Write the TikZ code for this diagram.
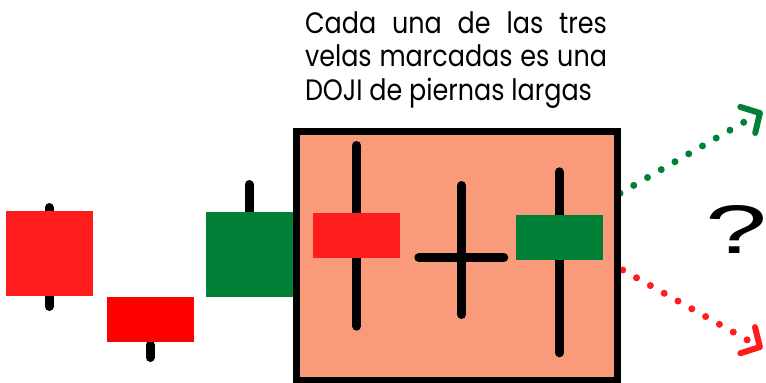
\documentclass[tikz,border=0pt]{standalone}
\usepackage{fontspec}
\setmainfont{Poppins}
\newfontfamily\qfont{Liberation Sans}
\usepackage{graphicx}
\usetikzlibrary{arrows.meta}
\definecolor{cred}{HTML}{FF1C1C}
\definecolor{cred2}{HTML}{FF0000}
\definecolor{cgreen}{HTML}{008037}
\definecolor{csalmon}{HTML}{F99A7B}
\newlength\mytxtw
\newcommand\mytfont{\fontsize{29.5}{33}\selectfont}
\begin{document}
\settowidth\mytxtw{\mytfont DOJI de piernas largas}%
\begin{tikzpicture}[x=1pt,y=-1pt,
  wick/.style={line width=9pt,line cap=round,black},
  body/.style={inner sep=0pt,outer sep=0pt},
  txt/.style={anchor=base west,inner sep=0pt,outer sep=0pt},
  dotarrow/.style={line width=7pt,line cap=round,dash pattern=on 0pt off 15.85pt,
     -{Straight Barb[length=14pt,width=30pt,line width=6pt,round]}}]
\useasboundingbox (0,0) rectangle (766,383);
\pgfmathsetmacro\myscale{287/\mytxtw}
\pgfmathsetlengthmacro\mylinew{302pt/\myscale}
% text
\node[txt] (t1) at (305,33.3) {\scalebox{\myscale}[1]{\makebox[\mylinew][s]{\mytfont Cada una de las tres}}};
\node[txt] (t2) at (305,66.7) {\scalebox{\myscale}[1]{\makebox[\mylinew][s]{\mytfont velas marcadas es una}}};
\node[txt] (t3) at (305,100) {\scalebox{\myscale}[1]{\mytfont DOJI de piernas largas}};
% left candles
\draw[wick] (49,207.5) -- (49,306.5);
\fill[cred] (6,211) rectangle (92.7,295.7);
\draw[wick] (150,345) -- (150,357.5);
\fill[cred2] (107,297) rectangle (194,341.7);
\draw[wick] (249,184.5) -- (249,215);
\fill[cgreen] (206,212) rectangle (293,296.7);
% arrows
\coordinate (gs) at (620,193.3);
\coordinate (ge) at (762.5,111.5);
\coordinate (rs) at (622.7,270);
\coordinate (re) at (762.5,348.5);
\draw[dotarrow,cgreen] (gs) -- (ge);
\draw[dotarrow,cred] (rs) -- (re);
% frame
\draw[line width=7pt,fill=csalmon] (296,131) rectangle (617.5,380.5);
% inner candles
\draw[wick] (356.7,145.5) -- (356.7,326.2);
\fill[cred] (312.7,213) rectangle (400,257.7);
\draw[wick] (461.7,185.5) -- (461.7,314.5);
\draw[wick] (418.8,257.7) -- (503.8,257.7);
\draw[wick] (559.3,171.8) -- (559.3,352.8);
\fill[cgreen] (516,215) rectangle (603,259.7);
% question mark
\node[inner sep=0pt] (q) at (736,229) {\resizebox{62pt}{48pt}{\qfont\fontsize{60}{60}\selectfont ?}};
\end{tikzpicture}
\end{document}
